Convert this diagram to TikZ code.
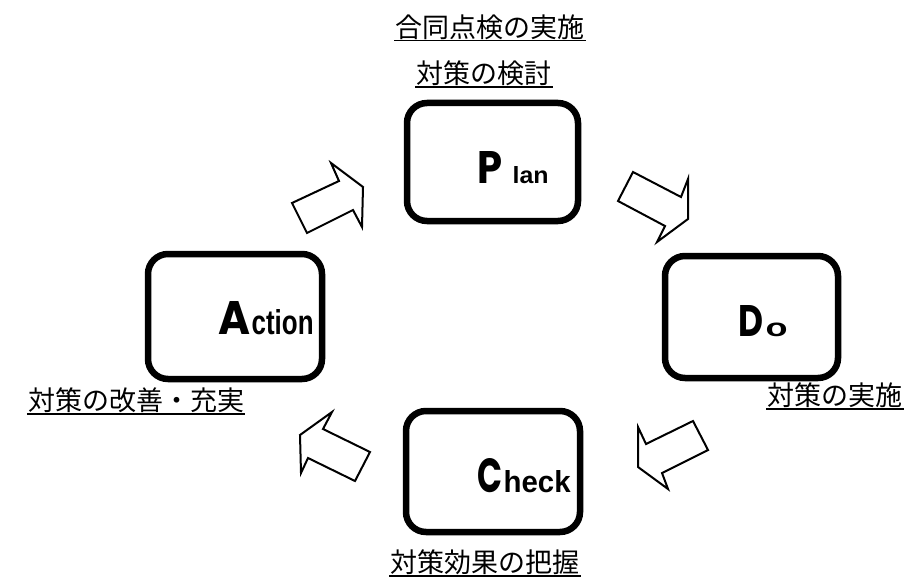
\documentclass[tikz,border=0pt]{standalone}
\usepackage{fontspec}
\usepackage{graphicx}
\setmainfont{Liberation Sans}
\newfontfamily\jpfont{Noto Sans CJK JP}
\newfontfamily\capfont{Poppins}
\usetikzlibrary{positioning}

\newcommand{\capletter}[3]{\resizebox{#1pt}{#2pt}{\capfont\bfseries #3}}
\newcommand{\capsmall}[3]{\resizebox{#1pt}{#2pt}{\bfseries #3}}

\tikzset{
  phase/.style={draw, line width=6.5pt, rounded corners=20pt},
  bigarrow/.style={draw, line width=2pt, fill=white, line join=miter},
  jlabel/.style={font=\jpfont\fontsize{27}{30}\selectfont, inner sep=1pt},
}

\begin{document}
\begin{tikzpicture}[x=1pt, y=-1pt, every node/.style={inner sep=0pt}]
		\useasboundingbox (0,0) rectangle (909,588);
		% phase boxes
		\node[phase, minimum width=171pt, minimum height=118pt] (plan) at (492.5,162) {};
		\node[phase, minimum width=173pt, minimum height=122pt] (do) at (751.5,317) {};
		\node[phase, minimum width=174pt, minimum height=121pt] (check) at (493,471.5) {};
		\node[phase, minimum width=174pt, minimum height=125pt] (action) at (235,316.5) {};
		
		% block arrows
		\draw[bigarrow] (292,203) -- (339,181) -- (331,163) -- (363,187) -- (362,227) -- (353,210) -- (307,233) -- cycle;
		\draw[bigarrow] (633,172) -- (681,197) -- (688,179) -- (688,219) -- (657,242) -- (665,226) -- (618,201) -- cycle;
		\draw[bigarrow] (693,421) -- (708,450) -- (662,473) -- (668,489) -- (638,467) -- (638,427) -- (646,444) -- cycle;
		\draw[bigarrow] (332,412) -- (323,429) -- (370,452) -- (355,481) -- (308,458) -- (301,473) -- (300,435) -- cycle;
		
		% letters
		\node[anchor=base west] (P) at (477,183) {\capletter{25}{32}{P}};
		\node[anchor=base west, xshift=10pt] (lan) at (P.base east) {\capsmall{36}{17}{lan}};
		\node[anchor=base west] (D) at (738,336) {\capletter{25}{31}{D}};
		\node[anchor=base west, xshift=2pt] (o) at (D.base east) {\capsmall{22}{13.5}{o}};
		\node[anchor=base west] (C) at (477,492) {\capletter{25}{34}{C}};
		\node[anchor=base west, xshift=1pt] (heck) at (C.base east) {\capsmall{67}{22}{heck}};
		\node[anchor=base west] (A) at (218,334) {\capletter{32}{33}{A}};
		\node[anchor=base west, xshift=1pt] (ction) at (A.base east) {\capsmall{62}{25}{ction}};
		
		% labels
		\node[jlabel] (joint) at (490,27) {合同点検の実施};
		\node[jlabel] (study) at (484,73) {対策の検討};
		\node[jlabel] (execute) at (835,395) {対策の実施};
		\node[jlabel] (improve) at (136,400) {対策の改善・充実};
		\node[jlabel] (grasp) at (485,562) {対策効果の把握};
		\foreach \lbl in {joint,study,execute,improve,grasp}
			\draw[line width=1.6pt] (\lbl.south west) -- (\lbl.south east);
	\end{tikzpicture}
\end{document}
